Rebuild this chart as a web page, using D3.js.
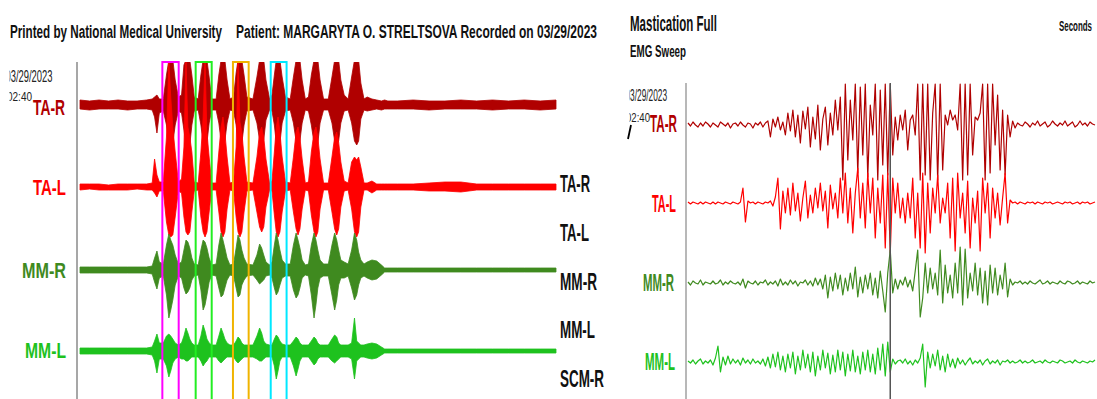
<!DOCTYPE html>
<html>
<head>
<meta charset="utf-8">
<script src="https://cdn.jsdelivr.net/npm/d3@7"></script>
<style>
  html, body { margin: 0; padding: 0; background: #fff; }
  svg { display: block; }
  text { font-family: 'Liberation Sans Narrow', 'Arial Narrow', 'Liberation Sans', Arial, sans-serif; font-weight: bold; }
</style>
</head>
<body>
<div id="chart"></div>
<script>
// ---- data ----
var channels = ['TA-R', 'TA-L', 'MM-R', 'MM-L'];
var channelColors = ['#b00000', '#ff0000', '#3f8a1f', '#1ec21e'];
var rightLabels = ['TA-R', 'TA-L', 'MM-R', 'MM-L', 'SCM-R'];

// left sweep: time (s) and envelope [high, low] per channel (uV)
var leftT = [
  0, 0.6, 1.2, 1.8, 2.4, 3.0, 3.6, 4.2, 4.55,
  4.7, 4.85, 5.0,
  5.25, 5.45, 5.6, 5.72, 5.85, 6.0, 6.2,
  6.4, 6.55, 6.68, 6.8, 6.92, 7.05, 7.2,
  7.45, 7.62, 7.76, 7.88, 8.0, 8.14, 8.3,
  8.58, 8.75, 8.89, 9.01, 9.13, 9.27, 9.45,
  9.68, 9.84, 9.96, 10.08, 10.2, 10.34, 10.52,
  10.9, 11.15, 11.32, 11.45, 11.58, 11.72, 11.95,
  12.1, 12.25, 12.37, 12.48, 12.6, 12.74, 12.95,
  13.25, 13.45, 13.62, 13.74, 13.86, 14.0, 14.2,
  14.4, 14.58, 14.75, 14.87, 14.99, 15.13, 15.35,
  15.65, 15.88, 16.05, 16.18, 16.3, 16.44, 16.65,
  16.9, 17.12, 17.3, 17.44, 17.56, 17.7, 17.9,
  18.1, 18.4, 18.7, 19.0, 19.2, 19.4, 20, 21, 22, 23, 24, 25, 26, 27, 28, 29, 30
];
var leftTAR = [
  [5,-4],[4,-5],[5,-4],[4,-4],[5,-4],[4,-5],[4,-4],[5,-4],[6,-5],
  [8,-12],[10,-28],[6,-8],
  [6,-6],[30,-20],[45,-38],[45,-40],[45,-38],[25,-20],[8,-6],
  [10,-8],[40,-25],[45,-40],[45,-38],[45,-40],[30,-20],[8,-6],
  [6,-5],[30,-20],[45,-38],[45,-42],[45,-38],[28,-18],[6,-5],
  [6,-5],[30,-18],[45,-36],[45,-40],[45,-36],[25,-18],[6,-5],
  [8,-6],[32,-20],[45,-38],[45,-42],[45,-38],[30,-20],[8,-6],
  [6,-5],[28,-18],[45,-35],[45,-40],[45,-35],[25,-15],[6,-5],
  [10,-6],[30,-20],[45,-38],[45,-42],[45,-38],[28,-18],[8,-6],
  [6,-5],[28,-18],[45,-36],[45,-40],[45,-36],[25,-18],[6,-5],
  [8,-6],[30,-20],[45,-38],[45,-42],[45,-38],[25,-18],[6,-5],
  [6,-5],[28,-18],[45,-36],[45,-40],[45,-36],[25,-18],[10,-6],
  [6,-5],[28,-18],[45,-36],[45,-40],[45,-36],[22,-14],[6,-5],
  [8,-6],[6,-5],[5,-4],[4,-5],[5,-4],[4,-4],[4,-4],[5,-4],[4,-5],[4,-4],[5,-4],[4,-4],[5,-5],[4,-4],[5,-4],[4,-5],[5,-4]
];
var leftTAL = [
  [3,-3],[3,-2],[3,-3],[2,-3],[3,-3],[3,-3],[3,-2],[3,-3],[4,-3],
  [28,-6],[12,-10],[5,-4],
  [5,-4],[50,-35],[125,-48],[90,-50],[60,-48],[35,-30],[5,-4],
  [8,-6],[40,-30],[125,-45],[60,-48],[50,-45],[35,-25],[5,-4],
  [4,-3],[35,-30],[70,-45],[125,-50],[55,-45],[30,-25],[4,-3],
  [4,-3],[35,-25],[60,-45],[70,-50],[55,-45],[30,-22],[4,-3],
  [5,-4],[40,-30],[125,-45],[65,-50],[55,-45],[30,-25],[5,-4],
  [4,-3],[30,-25],[55,-40],[60,-45],[50,-40],[28,-20],[4,-3],
  [6,-4],[35,-28],[60,-45],[70,-50],[55,-45],[30,-25],[5,-4],
  [4,-3],[30,-25],[55,-42],[60,-48],[50,-42],[28,-22],[4,-3],
  [5,-4],[35,-28],[55,-45],[60,-50],[50,-45],[28,-22],[4,-3],
  [4,-3],[30,-25],[50,-42],[55,-48],[45,-42],[25,-20],[6,-4],
  [4,-3],[25,-22],[30,-45],[27,-50],[30,-45],[20,-20],[4,-3],
  [4,-3],[6,-6],[3,-3],[3,-3],[3,-3],[3,-3],[3,-3],[3,-3],[4,-4],[5,-4],[5,-5],[3,-3],[3,-3],[3,-3],[3,-3],[3,-3],[3,-3]
];
var leftMMR = [
  [3,-3],[3,-3],[3,-3],[3,-3],[3,-3],[3,-3],[3,-3],[3,-3],[4,-4],
  [12,-12],[19,-19],[8,-8],
  [6,-6],[25,-25],[36,-48],[30,-40],[25,-30],[15,-15],[6,-6],
  [8,-8],[20,-18],[30,-24],[28,-22],[22,-18],[12,-10],[6,-6],
  [5,-5],[20,-20],[30,-40],[28,-35],[22,-25],[12,-12],[5,-5],
  [6,-6],[25,-18],[37,-27],[30,-25],[22,-18],[12,-10],[5,-5],
  [6,-6],[22,-18],[35,-27],[30,-25],[20,-15],[12,-10],[6,-6],
  [5,-5],[15,-10],[26,-14],[22,-12],[15,-10],[8,-6],[5,-5],
  [8,-8],[25,-18],[37,-25],[30,-22],[20,-15],[10,-8],[6,-6],
  [6,-6],[25,-20],[37,-28],[30,-25],[22,-18],[10,-8],[5,-5],
  [6,-6],[25,-25],[37,-48],[30,-35],[20,-18],[10,-8],[6,-6],
  [6,-6],[25,-25],[37,-40],[30,-30],[20,-15],[10,-8],[8,-8],
  [6,-6],[20,-18],[37,-30],[30,-25],[18,-15],[10,-8],[6,-6],
  [8,-8],[10,-10],[9,-9],[5,-5],[2,-2],[2,-2],[2,-2],[2,-2],[2,-2],[2,-2],[2,-2],[2,-2],[2,-2],[2,-2],[2,-2],[2,-2],[2,-2]
];
var leftMML = [
  [3,-3],[3,-3],[3,-3],[3,-3],[3,-3],[3,-3],[3,-3],[3,-3],[4,-4],
  [10,-10],[17,-22],[8,-8],
  [8,-8],[15,-15],[17,-26],[15,-20],[12,-12],[8,-8],[6,-6],
  [8,-8],[15,-8],[23,-10],[18,-10],[12,-8],[8,-6],[6,-6],
  [6,-6],[15,-10],[26,-15],[20,-12],[12,-10],[8,-6],[6,-6],
  [6,-6],[15,-10],[23,-12],[18,-10],[12,-8],[8,-6],[6,-6],
  [6,-6],[10,-10],[14,-12],[12,-10],[8,-8],[6,-6],[6,-6],
  [6,-6],[15,-8],[23,-10],[18,-10],[10,-8],[7,-6],[6,-6],
  [6,-6],[12,-15],[16,-28],[14,-20],[10,-10],[7,-6],[6,-6],
  [6,-6],[10,-15],[14,-25],[12,-18],[8,-10],[6,-6],[6,-6],
  [6,-6],[10,-10],[14,-14],[12,-12],[8,-8],[6,-6],[6,-6],
  [6,-6],[12,-10],[16,-12],[14,-10],[8,-8],[6,-6],[6,-6],
  [6,-6],[8,-8],[33,-28],[10,-10],[8,-8],[6,-6],[6,-6],
  [7,-7],[8,-8],[7,-7],[4,-4],[2,-2],[2,-2],[2,-2],[2,-2],[2,-2],[2,-2],[2,-2],[2,-2],[2,-2],[2,-2],[2,-2],[2,-2],[2,-2]
];

// selected chewing cycles (s)
var boxStart = [5.19, 7.29, 9.64, 12.02];
var boxEnd = [6.22, 8.30, 10.63, 13.02];
var boxColors = ['#ff00ff', '#22ee22', '#f0b400', '#00e8ff'];

// right sweep: samples (uV)
var rightTAR = [
  2,-1,3,0,-2,2,-1,3,1,-2,
  2,0,-2,3,1,-1,2,-3,1,2,
  -1,3,0,-2,2,1,-3,2,0,3,
  -2,2,4,-12,6,-2,8,-5,3,-10,
  12,-6,15,-12,10,-18,14,-4,18,-22,
  8,-14,20,-25,6,18,-20,12,-10,25,
  -5,28,-55,41,-35,25,-15,41,-48,38,
  -30,41,-52,20,-10,41,-55,35,-40,41,
  -50,41,-30,8,-15,10,-5,15,-25,5,
  10,-10,41,-55,41,-50,41,-55,12,41,
  -55,41,-45,10,0,15,5,10,-5,41,
  -55,41,-50,41,-30,8,5,12,41,-55,
  41,-48,41,-20,30,-45,15,-50,10,-12,
  4,-3,2,0,-1,3,1,-2,2,0,
  4,-1,1,3,-2,0,4,1,-1,2,
  0,4,-1,1,3,-2,0,4,0,2,
  -1,3,1,0
];
var rightTAL = [
  1,-1,1,0,-1,1,-1,1,0,-1,
  1,-1,1,0,-1,1,0,-1,1,0,
  -1,1,15,-19,2,0,1,-1,1,0,
  -1,1,0,2,-3,6,25,-26,12,-10,
  15,-12,20,-8,10,-18,5,22,-15,8,
  -10,15,-5,20,-8,12,-25,18,-6,10,
  -15,25,-10,30,-20,15,-30,10,35,-15,
  20,-25,30,-10,25,-35,15,-20,28,-45,
  30,-50,25,-10,20,-15,5,-20,10,-15,
  25,-35,10,-45,30,-50,20,-30,15,-10,
  28,-20,5,-10,20,-35,25,-48,30,-15,
  10,-30,22,-45,5,-20,12,-48,25,-10,
  20,-35,15,-15,10,-22,5,30,-20,3,
  0,1,-1,1,0,-1,1,0,1,-1,
  1,0,-1,1,0,1,-1,0,1,0,
  -1,1,0,1,-1,0,1,-1,1,0,
  1,-1,0,1
];
var rightMMR = [
  1,-2,2,0,-1,3,-2,1,0,-1,
  2,-1,0,3,-2,1,-1,2,0,-1,
  1,-2,4,-5,2,0,-1,2,-2,1,
  0,3,-2,1,-1,2,-3,4,-2,1,
  -2,3,-1,2,-3,1,0,3,-2,2,
  -3,5,-2,4,-6,8,-15,6,-8,10,
  -6,8,-12,5,-8,10,-6,16,-14,6,
  -10,8,-6,10,-12,5,-15,12,-8,-29,
  10,33,-10,4,-6,3,-2,6,-4,3,
  -8,12,33,-34,-15,20,-10,15,-6,10,
  -12,33,-20,18,-10,8,-15,20,-10,36,
  -22,34,-15,10,-8,20,-12,15,-20,12,
  -22,18,-10,15,-12,8,-6,20,-14,4,
  -2,1,0,2,-1,1,-1,2,0,-1,
  1,3,-1,0,2,-1,1,0,-1,2,
  0,-1,2,1,-1,0,2,-1,1,0,
  -1,2,0,1
];
var rightMML = [
  1,-1,2,-2,1,3,-2,1,-1,2,
  -3,4,16,-10,5,-3,6,-2,3,-1,
  2,-3,4,-1,2,-2,3,-1,1,-2,
  3,-4,5,-6,8,-5,10,-8,6,-10,
  8,-6,10,-12,6,-8,12,-6,8,-10,
  10,-14,6,-8,12,-6,9,-12,7,-10,
  12,-8,10,-14,8,-9,12,-10,6,-12,
  10,-8,12,-10,8,-12,14,-8,18,-14,
  20,-10,3,-2,1,2,-1,3,-2,1,
  -3,2,-1,4,18,-25,10,-6,8,-4,
  12,-8,6,-10,8,-5,3,-6,4,-2,
  2,-3,1,4,-2,1,-1,2,-3,1,
  3,-2,1,-1,2,-3,1,0,2,-1,
  1,-1,0,2,-1,1,-1,0,2,-1,
  0,1,-1,2,0,-1,1,0,-1,2,
  1,-1,0,1,-1,2,0,-1,1,0,
  -1,1,0,2
];
var cursorSample = 81;

// ---- drawing ----
var w = 1097, h = 399;
var svg = d3.select('#chart').append('svg').attr('width', w).attr('height', h);
var defs = svg.append('defs');

defs.append('clipPath').attr('id', 'clipL').append('rect')
  .attr('x', 78).attr('y', 62).attr('width', 480).attr('height', 340);
defs.append('clipPath').attr('id', 'clipR').append('rect')
  .attr('x', 687).attr('y', 83).attr('width', 410).attr('height', 320);
defs.append('clipPath').attr('id', 'clipDateL').append('rect')
  .attr('x', 9.5).attr('y', 0).attr('width', 60).attr('height', 130);
defs.append('clipPath').attr('id', 'clipDateR').append('rect')
  .attr('x', 629.5).attr('y', 0).attr('width', 60).attr('height', 140);

function label(g, x, y, str, size, color, len, weight) {
  return g.append('text')
    .attr('x', x).attr('y', y)
    .attr('textLength', len).attr('lengthAdjust', 'spacingAndGlyphs')
    .style('font-size', size + 'px')
    .style('font-weight', weight || 'bold')
    .style('fill', color)
    .text(str);
}

// ---------- left panel ----------
var xL = d3.scaleLinear().domain([0, 30]).range([80, 556]);
var baseL = [105, 187, 270, 351];
var leftData = [leftTAR, leftTAL, leftMMR, leftMML];

label(svg, 10, 38, 'Printed by National Medical University', 18, '#111', 212);
label(svg, 236, 38, 'Patient: MARGARYTA O. STRELTSOVA  Recorded on 03/29/2023', 18, '#111', 361);

svg.append('line')
  .attr('x1', 77).attr('x2', 77).attr('y1', 62).attr('y2', h)
  .attr('stroke', '#8a8a8a').attr('stroke-width', 1.5);

var dl = svg.append('g').attr('clip-path', 'url(#clipDateL)');
label(dl, 5.5, 82, '03/29/2023', 16, '#222', 47, 'normal');
label(dl, 7, 101, '02:40', 13, '#222', 25, 'normal');

var gL = svg.append('g').attr('clip-path', 'url(#clipL)');
leftData.forEach(function (env, c) {
  var y = d3.scaleLinear().domain([-100, 100]).range([baseL[c] + 100, baseL[c] - 100]);
  var area = d3.area()
    .x(function (d, i) { return xL(leftT[i]); })
    .y0(function (d) { return y(d[1]); })
    .y1(function (d) { return y(d[0]); });
  gL.append('path')
    .datum(env)
    .attr('d', area)
    .attr('fill', channelColors[c])
    .attr('stroke', channelColors[c])
    .attr('stroke-width', 0.8);
});

boxStart.forEach(function (s, i) {
  svg.append('rect')
    .attr('x', xL(s)).attr('y', 62)
    .attr('width', xL(boxEnd[i]) - xL(s))
    .attr('height', h)
    .attr('fill', 'none')
    .attr('stroke', boxColors[i])
    .attr('stroke-width', 2);
});

var leftLabelX = [33, 33, 22, 25];
var leftLabelLen = [32, 33, 44, 41];
var leftLabelY = [115, 195, 278, 358];
channels.forEach(function (name, i) {
  label(svg, leftLabelX[i], leftLabelY[i], name, 22, channelColors[i], leftLabelLen[i]);
});

var sideLen = [30, 29, 37, 35, 44];
rightLabels.forEach(function (name, i) {
  label(svg, 560, 192 + i * 48.8, name, 23, '#111', sideLen[i]);
});

// ---------- right panel ----------
var rightData = [rightTAR, rightTAL, rightMMR, rightMML];
var xR = d3.scaleLinear().domain([0, rightTAR.length - 1]).range([688, 1095]);
var baseR = [125, 203, 283, 362];

label(svg, 630, 31, 'Mastication Full', 22, '#111', 87);
label(svg, 630, 57, 'EMG Sweep', 17, '#111', 56);
label(svg, 1059, 31, 'Seconds', 15, '#111', 33);

var dr = svg.append('g').attr('clip-path', 'url(#clipDateR)');
label(dr, 625.5, 101, '03/29/2023', 16, '#222', 41.5, 'normal');
label(dr, 626, 122, '02:40', 12, '#222', 24, 'normal');
svg.append('line')
  .attr('x1', 628).attr('y1', 139).attr('x2', 631).attr('y2', 125)
  .attr('stroke', '#000').attr('stroke-width', 1.8);

svg.append('line')
  .attr('x1', 686).attr('x2', 686).attr('y1', 83).attr('y2', h)
  .attr('stroke', '#a0a0a0').attr('stroke-width', 1.5);

var gR = svg.append('g').attr('clip-path', 'url(#clipR)');
rightData.forEach(function (vals, c) {
  var y = d3.scaleLinear().domain([-100, 100]).range([baseR[c] + 100, baseR[c] - 100]);
  var line = d3.line()
    .x(function (d, i) { return xR(i); })
    .y(function (d) { return y(d); });
  gR.append('path')
    .datum(vals)
    .attr('d', line)
    .attr('fill', 'none')
    .attr('stroke', channelColors[c])
    .attr('stroke-width', 1.2)
    .attr('stroke-linejoin', 'round');
});

svg.append('line')
  .attr('x1', xR(cursorSample)).attr('x2', xR(cursorSample)).attr('y1', 83).attr('y2', h)
  .attr('stroke', '#555').attr('stroke-width', 1.5);

var rLabelX = [650, 652, 643, 645];
var rLabelLen = [27, 24, 31, 30];
var rLabelY = [132, 212, 291, 370];
channels.forEach(function (name, i) {
  label(svg, rLabelX[i], rLabelY[i], name, 24, channelColors[i], rLabelLen[i]);
});
</script>
</body>
</html>
